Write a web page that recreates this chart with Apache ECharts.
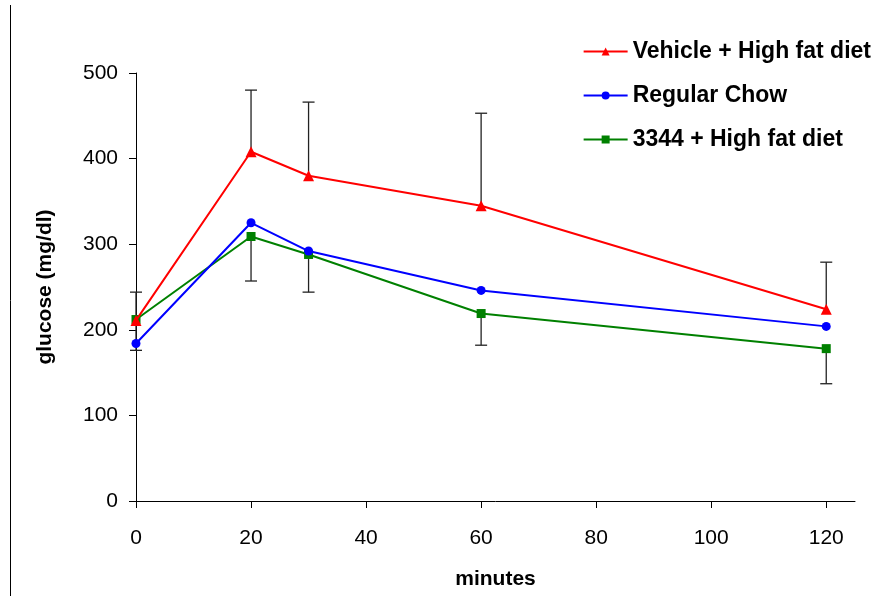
<!DOCTYPE html>
<html>
<head>
<meta charset="utf-8">
<script src="https://cdn.jsdelivr.net/npm/echarts@6/dist/echarts.min.js"></script>
<style>
  html, body { margin: 0; padding: 0; background: #fff; }
  #chart { width: 878px; height: 601px; }
</style>
</head>
<body>
<div id="chart"></div>
<script>
// minutes after glucose load
var minutes = [0, 20, 30, 60, 120]
var xTicks = [0, 20, 40, 60, 80, 100, 120]

var vehicle = [211, 408, 380, 345, 224]
var chow = [184, 325, 292, 246, 204]
var drug = [212, 309, 288, 219, 178]

// error bars: vehicle drawn upward, 3344 drawn downward
var vehicleErrUp = [33, 72, 86, 108, 55]
var drugErrDown = [36, 52, 44, 37, 41]

function pairs (ys) {
  return minutes.map(function (m, i) { return [m, ys[i]] })
}

var errData = []
minutes.forEach(function (m, i) {
  errData.push([m, vehicle[i], vehicle[i] + vehicleErrUp[i]])
  errData.push([m, drug[i], drug[i] - drugErrDown[i]])
})

var font = 'Arial, "Liberation Sans", sans-serif'
var chart = echarts.init(document.getElementById('chart'))

var option = {
  backgroundColor: '#fff',
  animation: false,
  textStyle: { fontFamily: font },
  grid: { left: 136, right: 23, top: 73, bottom: 100 },
  graphic: [{
    type: 'line',
    shape: { x1: 10.5, y1: 5, x2: 10.5, y2: 596 },
    style: { stroke: '#000', lineWidth: 1 }
  }],
  legend: {
    orient: 'vertical',
    right: 2,
    top: 35,
    itemGap: 21,
    itemWidth: 44,
    itemHeight: 10,
    textStyle: { fontSize: 23, fontWeight: 'bold', color: '#000', fontFamily: font },
    data: ['Vehicle + High fat diet', 'Regular Chow', '3344 + High fat diet']
  },
  xAxis: {
    type: 'value',
    min: 0,
    max: 125,
    name: 'minutes',
    nameLocation: 'middle',
    nameGap: 68,
    nameTextStyle: { fontSize: 21, fontWeight: 'bold', color: '#000' },
    splitLine: { show: false },
    axisLine: { lineStyle: { color: '#000', width: 1 } },
    axisTick: { length: 7, lineStyle: { color: '#000' }, customValues: xTicks },
    axisLabel: { fontSize: 21, color: '#000', margin: 27, customValues: xTicks }
  },
  yAxis: {
    type: 'value',
    min: 0,
    max: 500,
    interval: 100,
    name: 'glucose (mg/dl)',
    nameLocation: 'middle',
    nameGap: 80,
    nameTextStyle: { fontSize: 21, fontWeight: 'bold', color: '#000' },
    splitLine: { show: false },
    axisLine: { show: true, lineStyle: { color: '#000', width: 1 } },
    axisTick: { show: true, length: 7, lineStyle: { color: '#000' } },
    axisLabel: { fontSize: 21, color: '#000', margin: 18 }
  },
  series: [
    {
      type: 'custom',
      name: 'err',
      z: 1,
      silent: true,
      renderItem: function (params, api) {
        var a = api.coord([api.value(0), api.value(1)])
        var b = api.coord([api.value(0), api.value(2)])
        var w = 6
        return {
          type: 'group',
          children: [
            { type: 'line', shape: { x1: a[0], y1: a[1], x2: b[0], y2: b[1] }, style: { stroke: '#222', lineWidth: 1.3 } },
            { type: 'line', shape: { x1: b[0] - w, y1: b[1], x2: b[0] + w, y2: b[1] }, style: { stroke: '#222', lineWidth: 1.3 } }
          ]
        }
      },
      data: errData
    },
    {
      type: 'line',
      name: 'Vehicle + High fat diet',
      z: 3,
      data: pairs(vehicle),
      symbol: 'triangle',
      symbolSize: 11,
      color: '#ff0000',
      lineStyle: { width: 2, color: '#ff0000' }
    },
    {
      type: 'line',
      name: 'Regular Chow',
      z: 4,
      data: pairs(chow),
      symbol: 'circle',
      symbolSize: 9,
      color: '#0000ff',
      lineStyle: { width: 2, color: '#0000ff' }
    },
    {
      type: 'line',
      name: '3344 + High fat diet',
      z: 2,
      data: pairs(drug),
      symbol: 'rect',
      symbolSize: 9,
      color: '#008000',
      lineStyle: { width: 2, color: '#008000' }
    }
  ]
}

chart.setOption(option)
</script>
</body>
</html>
